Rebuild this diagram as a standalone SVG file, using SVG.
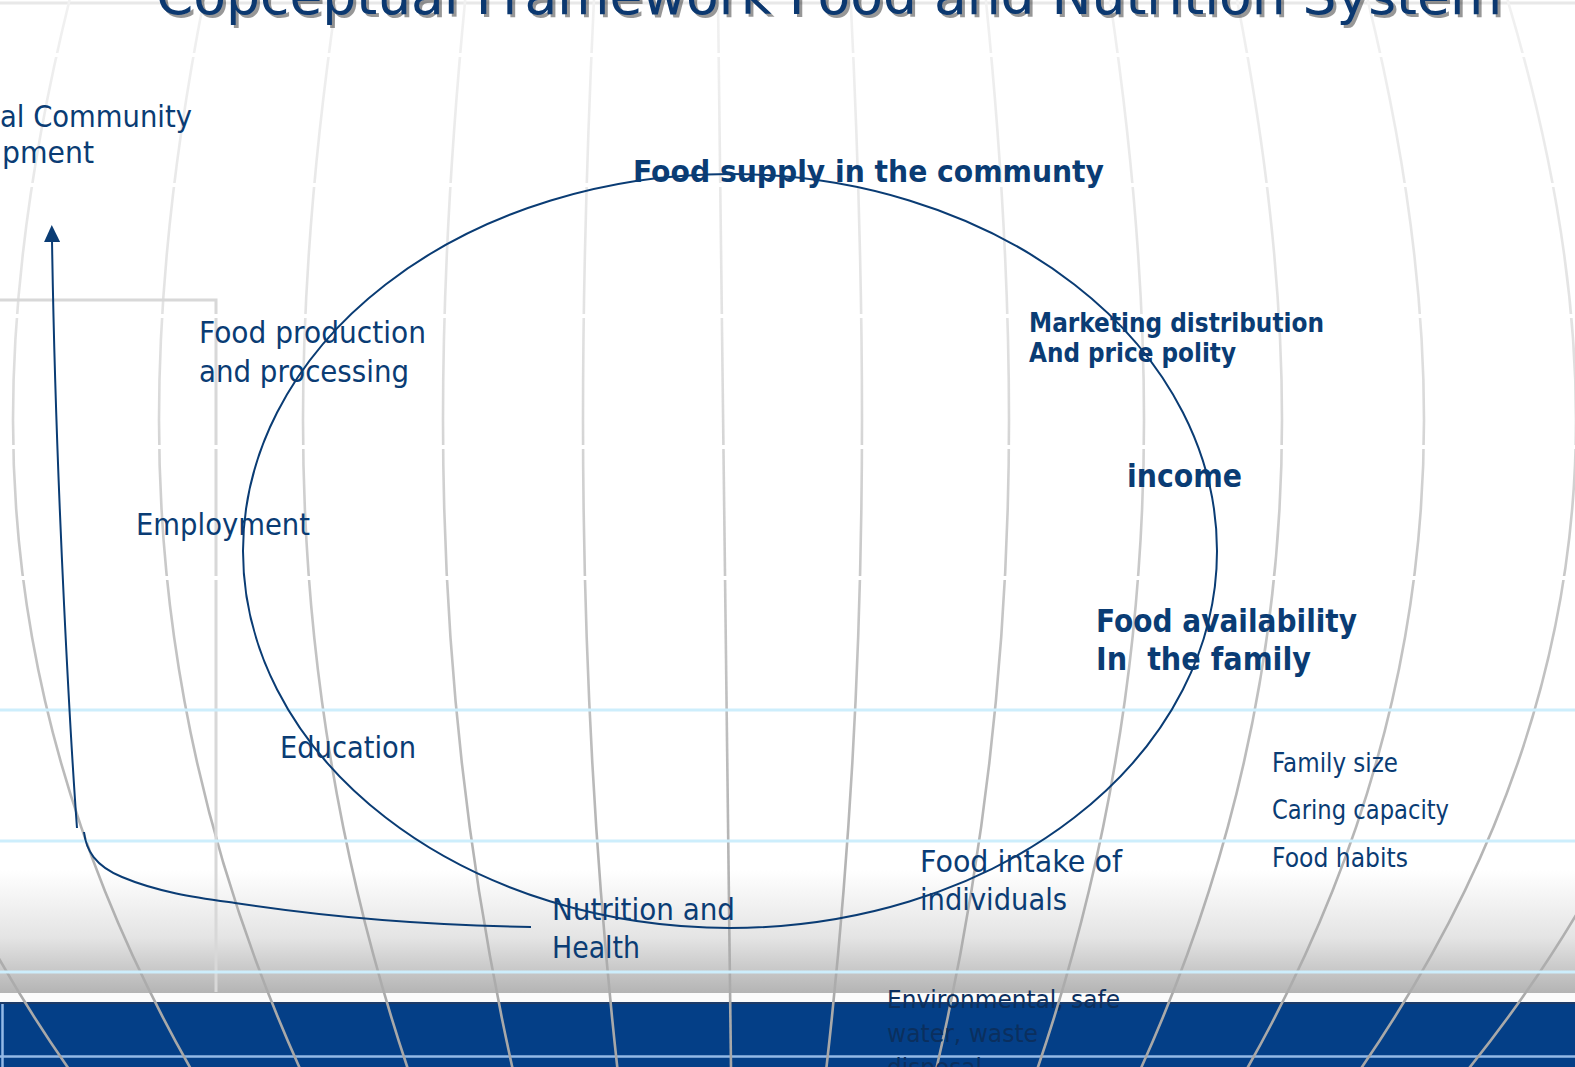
<svg xmlns="http://www.w3.org/2000/svg" width="1575" height="1067" viewBox="0 0 1575 1067">
<defs>
<style>
.t{font-family:"DejaVu Sans","Liberation Sans",sans-serif;fill:#0a3c74}
.r30{font-size:30px}
.r27{font-size:27px}
.b{font-weight:bold}
.env{font-size:25px;fill:#0b2f5e}
.mer{fill:none;stroke:url(#mg);stroke-width:2.6}
.gap{stroke:#ffffff;stroke-width:4}
.lb{stroke:#cdeefc;stroke-width:3}
.con{fill:none;stroke:#0a3c74;stroke-width:2}
</style>
<linearGradient id="mg" gradientUnits="userSpaceOnUse" x1="0" y1="0" x2="0" y2="1067">
<stop offset="0" stop-color="#f1f1f1"/>
<stop offset="0.3" stop-color="#e2e2e2"/>
<stop offset="0.5" stop-color="#cbcbcb"/>
<stop offset="1" stop-color="#a6a6a6"/>
</linearGradient>
<linearGradient id="band" x1="0" y1="0" x2="0" y2="1">
<stop offset="0" stop-color="#ffffff"/>
<stop offset="0.55" stop-color="#e4e4e4"/>
<stop offset="1" stop-color="#b4b4b4"/>
</linearGradient>
<path id="m" vector-effect="non-scaling-stroke" fill="none" d="M0.92,0 C0.969,140 1,280 1,420 C1,635 0.922,852 0.75,1067 L0.728,1095"/>
<marker id="ah" markerUnits="userSpaceOnUse" viewBox="0 0 17 16" markerWidth="17" markerHeight="16" refX="2" refY="8" orient="auto">
<path d="M0,0 L17,8 L0,16 z" fill="#0a3c74"/>
</marker>
</defs>

<g id="background">
<rect x="0" y="0" width="1575" height="1067" fill="#ffffff"/>
<rect x="0" y="870" width="1575" height="123" fill="url(#band)"/>
<rect x="0" y="993" width="1575" height="9" fill="#fbfbfb"/>
<rect x="0" y="1002" width="1575" height="65" fill="#043f87"/>
<line x1="0" y1="1003" x2="1575" y2="1003" stroke="#1d3b68" stroke-width="2"/>
<path d="M2.5,1067 L2.5,1004 M0,1056.5 L1575,1056.5" fill="none" stroke="#93b9e6" stroke-width="2.5"/>
<line x1="0" y1="3" x2="1575" y2="3" stroke="#e8e8e8" stroke-width="3"/>
<g id="meridians">
<use href="#m" class="mer" transform="translate(720 0) scale(-870 1)"/>
<use href="#m" class="mer" transform="translate(720 0) scale(-707 1)"/>
<use href="#m" class="mer" transform="translate(720 0) scale(-561 1)"/>
<use href="#m" class="mer" transform="translate(720 0) scale(-417 1)"/>
<use href="#m" class="mer" transform="translate(720 0) scale(-277 1)"/>
<use href="#m" class="mer" transform="translate(720 0) scale(-137 1)"/>
<path class="mer" d="M718,0 C719,250 722,500 731,1067"/>
<use href="#m" class="mer" transform="translate(720 0) scale(142 1)"/>
<use href="#m" class="mer" transform="translate(720 0) scale(289 1)"/>
<use href="#m" class="mer" transform="translate(720 0) scale(424 1)"/>
<use href="#m" class="mer" transform="translate(720 0) scale(562 1)"/>
<use href="#m" class="mer" transform="translate(720 0) scale(704 1)"/>
<use href="#m" class="mer" transform="translate(720 0) scale(856 1)"/>
<use href="#m" class="mer" transform="translate(720 0) scale(1000 1)"/>
</g>
<path d="M0,300 L216,300 L216,992" fill="none" stroke="#d8d8d8" stroke-width="3"/>
<g id="gaps">
<line class="gap" x1="0" y1="55" x2="1575" y2="55"/>
<line class="gap" x1="0" y1="185" x2="1575" y2="185"/>
<line class="gap" x1="0" y1="316" x2="1575" y2="316"/>
<line class="gap" x1="0" y1="447" x2="1575" y2="447"/>
<line class="gap" x1="0" y1="578" x2="1575" y2="578"/>
<line class="lb" x1="0" y1="710" x2="1575" y2="710"/>
<line class="lb" x1="0" y1="841" x2="1575" y2="841"/>
<line class="lb" x1="0" y1="972" x2="1575" y2="972"/>
</g>
</g>

<g id="title">
<text x="159" y="17" font-family="DejaVu Sans, Liberation Sans, sans-serif" font-size="54" fill="#1a1a1a" opacity="0.45" textLength="1346" lengthAdjust="spacingAndGlyphs">Copceptual Framework Food and Nutrition System</text>
<text x="156" y="14" font-family="DejaVu Sans, Liberation Sans, sans-serif" font-size="54" fill="#0b3870" textLength="1346" lengthAdjust="spacingAndGlyphs">Copceptual Framework Food and Nutrition System</text>
</g>

<g id="connectors">
<ellipse cx="730" cy="551" rx="487" ry="377" class="con"/>
<path d="M77,828 C72,760 56,500 52,240" class="con" stroke-width="2.5" marker-end="url(#ah)"/>
<path d="M84,832 C86,850 95,866 122,877 C160,893 200,898 235,903 C300,913 400,925 531,927" class="con"/>
</g>

<g id="node-community">
<text class="t r30" x="0" y="127" textLength="192" lengthAdjust="spacingAndGlyphs">al Community</text>
<text class="t r30" x="2" y="163" textLength="92" lengthAdjust="spacingAndGlyphs">pment</text>
</g>
<g id="node-food-supply">
<text class="t r30 b" x="633" y="182" textLength="471" lengthAdjust="spacingAndGlyphs">Food supply in the communty</text>
</g>
<g id="node-food-production">
<text class="t r30" x="199" y="343" textLength="227" lengthAdjust="spacingAndGlyphs">Food production</text>
<text class="t r30" x="199" y="382" textLength="210" lengthAdjust="spacingAndGlyphs">and processing</text>
</g>
<g id="node-marketing">
<text class="t b" font-size="26" x="1029" y="332" textLength="295" lengthAdjust="spacingAndGlyphs">Marketing distribution</text>
<text class="t b" font-size="26" x="1029" y="362" textLength="207" lengthAdjust="spacingAndGlyphs">And price polity</text>
</g>
<g id="node-income">
<text class="t b" font-size="32" x="1127" y="487" textLength="115" lengthAdjust="spacingAndGlyphs">income</text>
</g>
<g id="node-employment">
<text class="t r30" x="136" y="535" textLength="174" lengthAdjust="spacingAndGlyphs">Employment</text>
</g>
<g id="node-food-availability">
<text class="t b" font-size="32" x="1096" y="632" textLength="261" lengthAdjust="spacingAndGlyphs">Food availability</text>
<text class="t b" font-size="32" x="1096" y="670" textLength="215" lengthAdjust="spacingAndGlyphs" xml:space="preserve">In  the family</text>
</g>
<g id="node-education">
<text class="t r30" x="280" y="758" textLength="136" lengthAdjust="spacingAndGlyphs">Education</text>
</g>
<g id="node-family-factors">
<text class="t r27" x="1272" y="772" textLength="126" lengthAdjust="spacingAndGlyphs">Family size</text>
<text class="t r27" x="1272" y="819" textLength="177" lengthAdjust="spacingAndGlyphs">Caring capacity</text>
<text class="t r27" x="1272" y="867" textLength="136" lengthAdjust="spacingAndGlyphs">Food habits</text>
</g>
<g id="node-food-intake">
<text class="t r30" x="920" y="872" textLength="202" lengthAdjust="spacingAndGlyphs">Food intake of</text>
<text class="t r30" x="920" y="910" textLength="147" lengthAdjust="spacingAndGlyphs">individuals</text>
</g>
<g id="node-nutrition">
<text class="t r30" x="552" y="920" textLength="183" lengthAdjust="spacingAndGlyphs">Nutrition and</text>
<text class="t r30" x="552" y="958" textLength="88" lengthAdjust="spacingAndGlyphs">Health</text>
</g>
<g id="node-environment">
<text class="t env" x="887" y="1008" textLength="233" lengthAdjust="spacingAndGlyphs">Environmental, safe</text>
<text class="t env" x="887" y="1042" textLength="151" lengthAdjust="spacingAndGlyphs">water, waste</text>
<text class="t env" x="887" y="1076" textLength="95" lengthAdjust="spacingAndGlyphs">disposal</text>
</g>
</svg>
